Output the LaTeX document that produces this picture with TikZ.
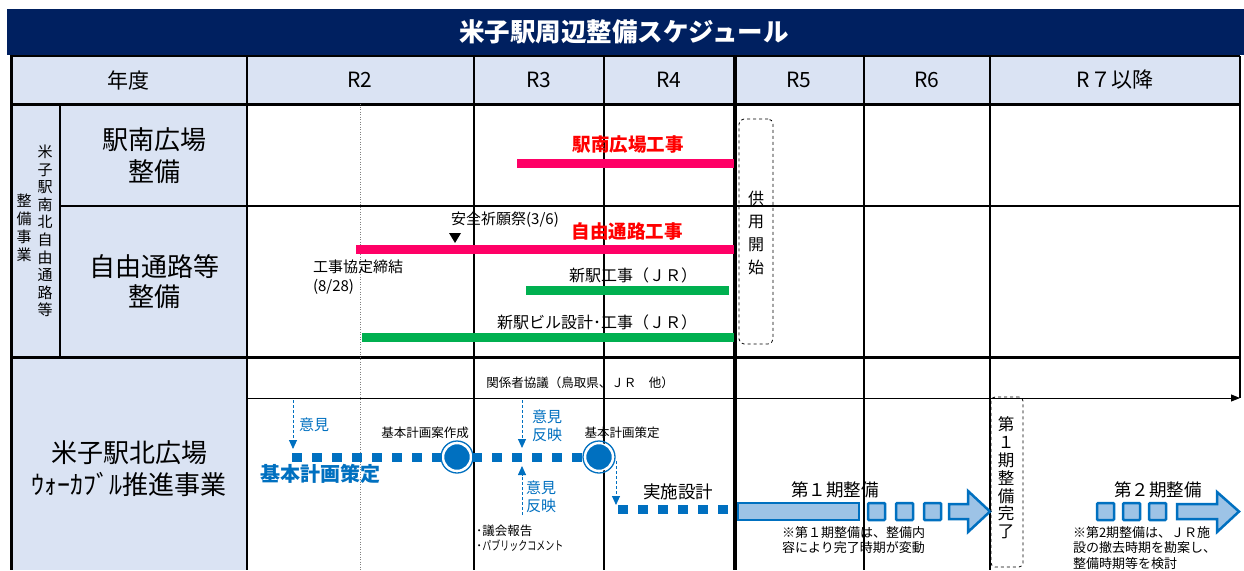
\documentclass[tikz,border=0pt]{standalone}
\usepackage{fontspec}
\setmainfont{Noto Sans CJK JP}
\usetikzlibrary{arrows.meta}
\definecolor{navy}{HTML}{002060}
\definecolor{hdr}{HTML}{DAE3F3}
\definecolor{pinkbar}{HTML}{FF0066}
\definecolor{redtxt}{HTML}{FF0000}
\definecolor{greenbar}{HTML}{00B050}
\definecolor{jblue}{HTML}{0070C0}
\definecolor{lblue}{HTML}{9DC3E6}
\newcommand\fsz[2]{\fontsize{#1}{#2}\selectfont}
\begin{document}
\begin{tikzpicture}[x=1pt,y=-1pt,
  txt/.style={inner sep=0pt, outer sep=0pt, align=center},
  gridline/.style={line width=1.3pt, black},
  heavyline/.style={line width=3pt, black},
  bluedots/.style={jblue, line width=9pt, dash pattern=on 10pt off 10pt},
  bluedash/.style={jblue, line width=0.9pt, dash pattern=on 3pt off 2pt, -{Triangle[length=9pt,width=8pt]}},
  blk/.style={fill=lblue, draw=jblue, line width=2.5pt},
  sq/.style={fill=lblue, draw=jblue, line width=2.5pt, rounded corners=1pt},
  dbox/.style={draw, dashed, line width=0.8pt, rounded corners=5pt, inner sep=0pt},
  milestone/.style={circle, fill=jblue, draw=white, line width=1.5pt, minimum size=27pt, inner sep=0pt}
]
\useasboundingbox (0,0) rectangle (1244,570);
\fill[white] (0,0) rectangle (1244,570);
% title bar
\fill[navy] (7,9) rectangle (1244,55);
\node[txt, text=white, font=\fsz{25.5}{28}\bfseries] (title) at (624,32) {米子駅周辺整備スケジュール};
% fills
\fill[hdr] (10,56) rectangle (1240,104);
\fill[hdr] (10,104) rectangle (247,570);
% grid
\draw[gridline] (10,56) -- (1240,56);
\draw[heavyline] (10,104) -- (1240,104);
\draw[gridline] (60,206) -- (1240,206);
\draw[heavyline] (10,357) -- (1240,357);
\draw[heavyline] (11,56) -- (11,570);
\draw[gridline] (60,104) -- (60,357);
\draw[gridline] (247,56) -- (247,570);
\draw[gridline] (474,56) -- (474,570);
\draw[gridline] (604,56) -- (604,570);
\draw[line width=4.5pt] (735,56) -- (735,570);
\draw[gridline] (864,56) -- (864,570);
\draw[gridline] (990,56) -- (990,570);
\draw[gridline] (1240,56) -- (1240,398);
\draw[gray, line width=1pt, dash pattern=on 1pt off 1.5pt] (360,104) -- (360,570);
% header
\begin{scope}[every node/.style={txt, font=\fsz{21}{24}}]
\node (hNendo) at (128,80) {年度};
\node (hR2) at (360,80) {R2};
\node (hR3) at (539,80) {R3};
\node (hR4) at (669,80) {R4};
\node (hR5) at (799,80) {R5};
\node (hR6) at (927,80) {R6};
\node (hR7) at (1115,80) {R７以降};
\end{scope}
% section 1 labels
\node[txt, font=\fsz{15}{17.6}] (vA) at (45,231) {米\\子\\駅\\南\\北\\自\\由\\通\\路\\等};
\node[txt, font=\fsz{15}{18}] (vB) at (24,228) {整\\備\\事\\業};
\node[txt, font=\fsz{26}{32}] (rowA) at (154,156) {駅南広場\\整備};
\node[txt, font=\fsz{26}{30}] (rowB) at (154,282) {自由通路等\\整備};
\node[txt, font=\fsz{26}{32}] (rowC) at (129,469) {米子駅北広場\\ｳｫｰｶﾌﾞﾙ推進事業};
% bars
\fill[pinkbar] (517,159) rectangle (734,168);
\fill[pinkbar] (356,245) rectangle (734,254);
\fill[greenbar] (526,286) rectangle (729,295);
\fill[greenbar] (362,333) rectangle (734,342);
\node[txt, text=redtxt, font=\fsz{18.5}{20}\bfseries] (lA) at (628,145) {駅南広場工事};
\node[txt, text=redtxt, font=\fsz{18.5}{20}\bfseries] (lB) at (627,231) {自由通路工事};
\node[txt, font=\fsz{15}{18}] (anzen) at (505,220) {安全祈願祭(3/6)};
\fill (449,233) -- (461,233) -- (455,243) -- cycle;
\node[txt, anchor=west, align=left, font=\fsz{15}{19}] (kyotei) at (313,277) {工事協定締結\\(8/28)};
\node[txt, font=\fsz{16}{18}] (shineki) at (633,275) {新駅工事（ＪＲ）};
\node[txt, font=\fsz{16}{18}] (shinbiru) at (597,322) {新駅ビル設計･工事（ＪＲ）};
\node[dbox, minimum width=34pt, minimum height=225pt] (kyoyo) at (756,231.5) {};
\node[txt, font=\fsz{16}{23}] (kyoyoT) at (756,233) {供\\用\\開\\始};
% section 2
\node[txt, font=\fsz{12.5}{14}] (kankei) at (580,383) {関係者協議（鳥取県、ＪＲ　他）};
\coordinate (tlS) at (247,398);
\coordinate (tlE) at (1240,398);
\draw[line width=1pt, -{Triangle[length=9pt,width=7pt]}] (tlS) -- (tlE);
\coordinate (bs) at (292,457);
\coordinate (c1p) at (457,457);
\coordinate (c2p) at (599,457);
\draw[bluedots] (bs) -- (c1p) -- (c2p);
\node[milestone] (c1) at (c1p) {};
\draw[jblue, line width=1.3pt] (c1) circle (16pt);
\node[milestone] (c2) at (c2p) {};
\draw[jblue, line width=1.3pt] (c2) circle (16pt);
\coordinate (a1s) at (293,400);
\coordinate (a1e) at (293,449);
\draw[bluedash] (a1s) -- (a1e);
\node[txt, text=jblue, font=\fsz{15}{18}] (iken1) at (314,425) {意見};
\coordinate (a2s) at (522,400);
\coordinate (a2e) at (522,448);
\draw[bluedash] (a2s) -- (a2e);
\node[txt, text=jblue, font=\fsz{15}{18}] (iken2) at (547,426) {意見\\反映};
\coordinate (a3s) at (522,515);
\coordinate (a3e) at (522,466);
\draw[bluedash] (a3s) -- (a3e);
\node[txt, text=jblue, font=\fsz{15}{18}] (iken3) at (541,497) {意見\\反映};
\node[txt, text=jblue, font=\fsz{20}{22}\bfseries] (kihon) at (320,474) {基本計画策定};
\node[txt, font=\fsz{12.5}{14}] (anSakusei) at (425,433) {基本計画案作成};
\node[txt, font=\fsz{12.5}{14}] (sakutei) at (622,433) {基本計画策定};
\node[txt, anchor=west, align=left, font=\fsz{12.5}{15.5}] (gikai) at (476,538) {･議会報告\\･\scalebox{0.72}[1]{パブリックコメント}};
\coordinate (a4s) at (616,461);
\coordinate (a4e) at (616,505);
\draw[bluedash] (a4s) -- (a4e);
\node[txt, font=\fsz{17.5}{20}] (jisshi) at (678,492) {実施設計};
\coordinate (js) at (618,509);
\coordinate (je) at (733,509);
\draw[bluedots] (js) -- (je);
% phase 1
\draw[blk] (738,503) rectangle (859,520);
\draw[sq] (868,503) rectangle (885,520);
\draw[sq] (896,503) rectangle (913,520);
\draw[sq] (924,503) rectangle (941,520);
\draw[blk] (949,504) -- (968,504) -- (968,491) -- (990,511.5) -- (968,532) -- (968,519) -- (949,519) -- cycle;
\node[txt, font=\fsz{17.5}{20}] (dai1) at (835,490) {第１期整備};
\node[txt, anchor=west, align=left, font=\fsz{13}{15.5}] (note1) at (782,540) {※第１期整備は、整備内\\容により完了時期が変動};
\node[dbox, rounded corners=4pt, minimum width=32pt, minimum height=170pt] (kanryo) at (1007,482) {};
\node[txt, font=\fsz{16.5}{17.8}] (kanryoT) at (1006,478) {第\\１\\期\\整\\備\\完\\了};
% phase 2
\draw[sq] (1097,503) rectangle (1114,520);
\draw[sq] (1123,503) rectangle (1140,520);
\draw[sq] (1149,503) rectangle (1166,520);
\draw[blk] (1177,504) -- (1217,504) -- (1217,492) -- (1239,511.5) -- (1217,532) -- (1217,519) -- (1177,519) -- cycle;
\node[txt, font=\fsz{17.5}{20}] (dai2) at (1158,490) {第２期整備};
\node[txt, anchor=west, align=left, font=\fsz{13}{15.5}] (note2) at (1073,548) {※第2期整備は、ＪＲ施\\設の撤去時期を勘案し、\\整備時期等を検討};
\end{tikzpicture}
\end{document}
